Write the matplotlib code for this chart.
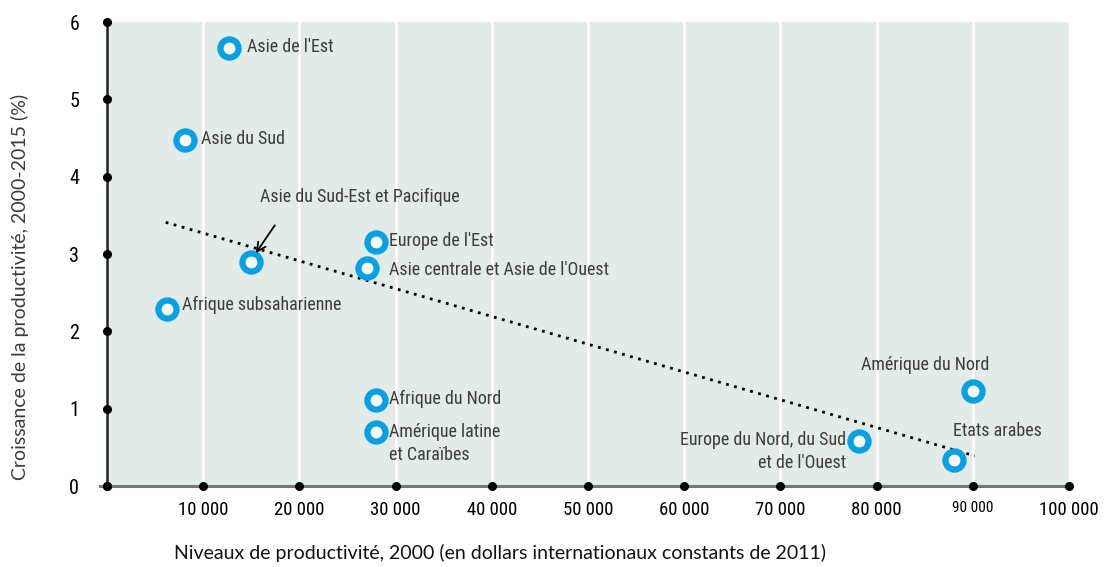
import matplotlib
matplotlib.use('Agg')
from matplotlib import pyplot as plt
from matplotlib import font_manager

regions = ["Asie de l'Est", 'Asie du Sud', 'Asie du Sud-Est et Pacifique',
           "Europe de l'Est", "Asie centrale et Asie de l'Ouest", 'Afrique subsaharienne',
           'Afrique du Nord', 'Amérique latine\net Caraïbes',
           "Europe du Nord, du Sud\net de l'Ouest", 'Etats arabes', 'Amérique du Nord']
productivity = [12700, 8100, 15000, 28000, 27000, 6200, 28000, 28000, 78200, 88000, 90000]
growth = [5.67, 4.47, 2.90, 3.15, 2.82, 2.29, 1.11, 0.70, 0.58, 0.34, 1.23]

trend_x = [6100, 90200]
trend_y = [3.41, 0.39]

x_ticks = [0, 10000, 20000, 30000, 40000, 50000, 60000, 70000, 80000, 90000, 100000]
x_tick_labels = ['', '10 000', '20 000', '30 000', '40 000', '50 000', '60 000',
                 '70 000', '80 000', '90 000', '100 000']
y_ticks = [0, 1, 2, 3, 4, 5, 6]

# label placement: offset in pixels from marker, horizontal alignment
label_pos = [(18, 1, 'left'), (16, 1, 'left'), (9, 65, 'left'), (13, 1, 'left'),
             (22, -2, 'left'), (15, 4, 'left'), (13, 1, 'left'), (13, -12, 'left'),
             (-13, -10, 'right'), (-1, 29, 'left'), (-48, 26, 'center')]

# look for a condensed face installed on the system
narrow_file = None
files = [f.fname for f in font_manager.fontManager.ttflist]
for key in ['RobotoCondensed-Regular', 'LiberationSansNarrow-Regular',
            'DejaVuSansCondensed.ttf', 'OpenSans_Condensed-Regular',
            'Roboto_Condensed-Regular', 'Condensed-Regular', 'Narrow']:
    hits = sorted(f for f in files if key in f)
    if hits:
        narrow_file = hits[0]
        break
if narrow_file:
    narrow = font_manager.FontProperties(fname=narrow_file)
else:
    narrow = font_manager.FontProperties(family='DejaVu Sans', stretch='condensed')

def nfont(size):
    fp = narrow.copy()
    fp.set_size(size)
    return fp

fig = plt.figure(figsize=(11.04, 5.67), dpi=100)
ax = fig.add_axes([107 / 1104, 1 - 486 / 567, 962 / 1104, 464 / 567])
ax.set_facecolor('#e2ebe7')
ax.set_xlim(0, 100000)
ax.set_ylim(0, 6)

for xv in x_ticks[1:-1]:
    ax.axvline(xv, color='white', lw=1.8, zorder=1)

ax.plot(trend_x, trend_y, color='black', lw=2, linestyle=(0, (1, 2)), zorder=2)

ax.scatter(productivity, growth, s=170, facecolor='white', edgecolor='#0a9fe0',
           linewidth=4.5, zorder=4)

for name, x, y, (dx, dy, ha) in zip(regions, productivity, growth, label_pos):
    ax.annotate(name, (x, y), xytext=(dx, dy), textcoords='offset pixels',
                ha=ha, va='center', multialignment=ha, fontproperties=nfont(13),
                color='#3c3c3c', linespacing=1.35, zorder=5)

ax.annotate('', xy=(15300, 2.98), xytext=(17600, 3.40),
            arrowprops=dict(arrowstyle='->', color='black', lw=1.3,
                            mutation_scale=16), zorder=5)

for s in ['top', 'right']:
    ax.spines[s].set_visible(False)
ax.spines['left'].set_color('#222222')
ax.spines['left'].set_linewidth(1.8)
ax.spines['bottom'].set_color('#777777')
ax.spines['bottom'].set_linewidth(2.2)
ax.spines['bottom'].set_bounds(-700, 100000)

ax.scatter(x_ticks, [0] * len(x_ticks), s=30, color='black', zorder=6, clip_on=False)
ax.scatter([0] * len(y_ticks), y_ticks, s=30, color='black', zorder=6, clip_on=False)

ax.set_xticks(x_ticks)
ax.set_xticklabels(x_tick_labels)
for lab in ax.get_xticklabels():
    lab.set_fontproperties(nfont(13.5))
ax.get_xticklabels()[9].set_fontproperties(nfont(11))
ax.set_yticks(y_ticks)
ax.set_yticklabels([str(v) for v in y_ticks])
for lab in ax.get_yticklabels():
    lab.set_fontproperties(nfont(14.5))
ax.tick_params(axis='x', length=0, pad=11)
ax.tick_params(axis='y', length=0, pad=20)

fig.text(500 / 1104, 1 - 553 / 567, 'Niveaux de productivité, 2000 (en dollars internationaux constants de 2011)',
         ha='center', va='center', fontsize=14, family='Lato', color='#111111')
fig.text(20 / 1104, 1 - 287 / 567, 'Croissance de la productivité, 2000-2015 (%)',
         ha='center', va='center', rotation=90, fontsize=14, family='Lato',
         color='#3a3a3a')

fig.savefig('out.png', dpi=100)
